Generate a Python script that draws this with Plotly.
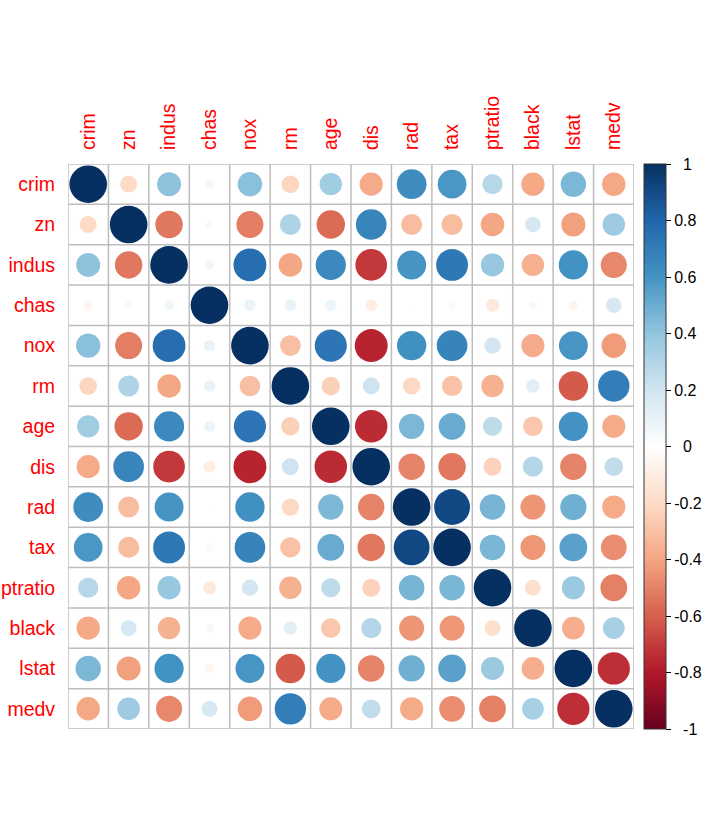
import plotly.graph_objects as go

labels = ["crim", "zn", "indus", "chas", "nox", "rm", "age", "dis", "rad", "tax",
          "ptratio", "black", "lstat", "medv"]

crim    = [1, -0.2005, 0.4066, -0.0559, 0.4210, -0.2192, 0.3527, -0.3797, 0.6255, 0.5828, 0.2899, -0.3851, 0.4556, -0.3883]
zn      = [-0.2005, 1, -0.5338, -0.0427, -0.5166, 0.3120, -0.5695, 0.6644, -0.3119, -0.3146, -0.3917, 0.1755, -0.4130, 0.3604]
indus   = [0.4066, -0.5338, 1, 0.0629, 0.7637, -0.3917, 0.6448, -0.7080, 0.5951, 0.7208, 0.3832, -0.3570, 0.6038, -0.4837]
chas    = [-0.0559, -0.0427, 0.0629, 1, 0.0912, 0.0913, 0.0865, -0.0992, -0.0074, -0.0356, -0.1215, 0.0488, -0.0539, 0.1753]
nox     = [0.4210, -0.5166, 0.7637, 0.0912, 1, -0.3022, 0.7315, -0.7692, 0.6114, 0.6680, 0.1889, -0.3801, 0.5909, -0.4273]
rm      = [-0.2192, 0.3120, -0.3917, 0.0913, -0.3022, 1, -0.2403, 0.2052, -0.2098, -0.2920, -0.3555, 0.1281, -0.6138, 0.6954]
age     = [0.3527, -0.5695, 0.6448, 0.0865, 0.7315, -0.2403, 1, -0.7479, 0.4560, 0.5065, 0.2615, -0.2735, 0.6023, -0.3770]
dis     = [-0.3797, 0.6644, -0.7080, -0.0992, -0.7692, 0.2052, -0.7479, 1, -0.4946, -0.5344, -0.2325, 0.2915, -0.4970, 0.2499]
rad     = [0.6255, -0.3119, 0.5951, -0.0074, 0.6114, -0.2098, 0.4560, -0.4946, 1, 0.9102, 0.4647, -0.4444, 0.4887, -0.3816]
tax     = [0.5828, -0.3146, 0.7208, -0.0356, 0.6680, -0.2920, 0.5065, -0.5344, 0.9102, 1, 0.4609, -0.4418, 0.5440, -0.4685]
ptratio = [0.2899, -0.3917, 0.3832, -0.1215, 0.1889, -0.3555, 0.2615, -0.2325, 0.4647, 0.4609, 1, -0.1774, 0.3740, -0.5078]
black   = [-0.3851, 0.1755, -0.3570, 0.0488, -0.3801, 0.1281, -0.2735, 0.2915, -0.4444, -0.4418, -0.1774, 1, -0.3661, 0.3335]
lstat   = [0.4556, -0.4130, 0.6038, -0.0539, 0.5909, -0.6138, 0.6023, -0.4970, 0.4887, 0.5440, 0.3740, -0.3661, 1, -0.7377]
medv    = [-0.3883, 0.3604, -0.4837, 0.1753, -0.4273, 0.6954, -0.3770, 0.2499, -0.3816, -0.4685, -0.5078, 0.3335, -0.7377, 1]

rows = [crim, zn, indus, chas, nox, rm, age, dis, rad, tax, ptratio, black, lstat, medv]

cb_vals = [-1, -0.8, -0.6, -0.4, -0.2, 0, 0.2, 0.4, 0.6, 0.8, 1]
cb_text = ["-1", "-0.8", "-0.6", "-0.4", "-0.2", "0", "0.2", "0.4", "0.6", "0.8", "1"]
# non-breaking-space padding so the colorbar labels look centred as in corrplot
cb_pad = {"-1": 2, "0": 2, "1": 2}
cb_disp = ["\u00a0" * cb_pad.get(t, 0) + t for t in cb_text]

palette = ["#67001F", "#B2182B", "#D6604D", "#F4A582", "#FDDBC7", "#FFFFFF",
           "#D1E5F0", "#92C5DE", "#4393C3", "#2166AC", "#053061"]
colorscale = [[i / (len(palette) - 1), c] for i, c in enumerate(palette)]

W, H = 720, 840
ml, mr, mt, mb = 68, 86, 164, 111
n = len(labels)
cell = (W - ml - mr) / n
maxd = cell * 0.93

xs, ys, cs, ss = [], [], [], []
for i, row in enumerate(rows):
    for j, v in enumerate(row):
        xs.append(j)
        ys.append(i)
        cs.append(v)
        ss.append(maxd * abs(v) ** 0.5)

fig = go.Figure()
fig.add_trace(go.Scatter(
    x=xs, y=ys, mode="markers",
    marker=dict(size=ss, color=cs, colorscale=colorscale, cmin=-1, cmax=1,
                opacity=1, line=dict(width=0),
                colorbar=dict(
                    x=(644 - ml) / (W - ml - mr), xanchor="left", xpad=0,
                    y=0.5, yanchor="middle", len=1, lenmode="fraction", ypad=0,
                    thickness=22, thicknessmode="pixels",
                    outlinewidth=1, outlinecolor="#333333",
                    tickmode="array", tickvals=cb_vals, ticktext=cb_disp,
                    ticks="outside", ticklen=5, tickwidth=1, tickcolor="black",
                    tickfont=dict(family="Liberation Sans, Arial", size=16, color="black"),
                )),
    hoverinfo="skip", showlegend=False,
))

shapes = []
for k in range(n + 1):
    shapes.append(dict(type="line", xref="x", yref="y", x0=k - 0.5, x1=k - 0.5,
                       y0=-0.5, y1=n - 0.5, line=dict(color="#BEBEBE", width=1.5),
                       layer="below"))
    shapes.append(dict(type="line", xref="x", yref="y", y0=k - 0.5, y1=k - 0.5,
                       x0=-0.5, x1=n - 0.5, line=dict(color="#BEBEBE", width=1.5),
                       layer="below"))

lab_font = dict(family="Liberation Sans, Arial", size=19.5, color="#FF0000")
fig.update_layout(
    width=W, height=H,
    margin=dict(l=ml, r=mr, t=mt, b=mb, autoexpand=False),
    paper_bgcolor="white", plot_bgcolor="white",
    shapes=shapes,
    xaxis=dict(range=[-0.5, n - 0.5], side="top", tickmode="array",
               tickvals=list(range(n)), ticktext=labels, tickangle=-90,
               showgrid=False, zeroline=False, showline=False,
               ticks="outside", ticklen=9, tickcolor="rgba(0,0,0,0)",
               tickfont=lab_font, fixedrange=True),
    yaxis=dict(range=[n - 0.5, -0.5], tickmode="array",
               tickvals=list(range(n)), ticktext=labels,
               showgrid=False, zeroline=False, showline=False,
               ticks="outside", ticklen=8, tickcolor="rgba(0,0,0,0)",
               tickfont=lab_font, fixedrange=True),
)

fig.write_html("out.html")
